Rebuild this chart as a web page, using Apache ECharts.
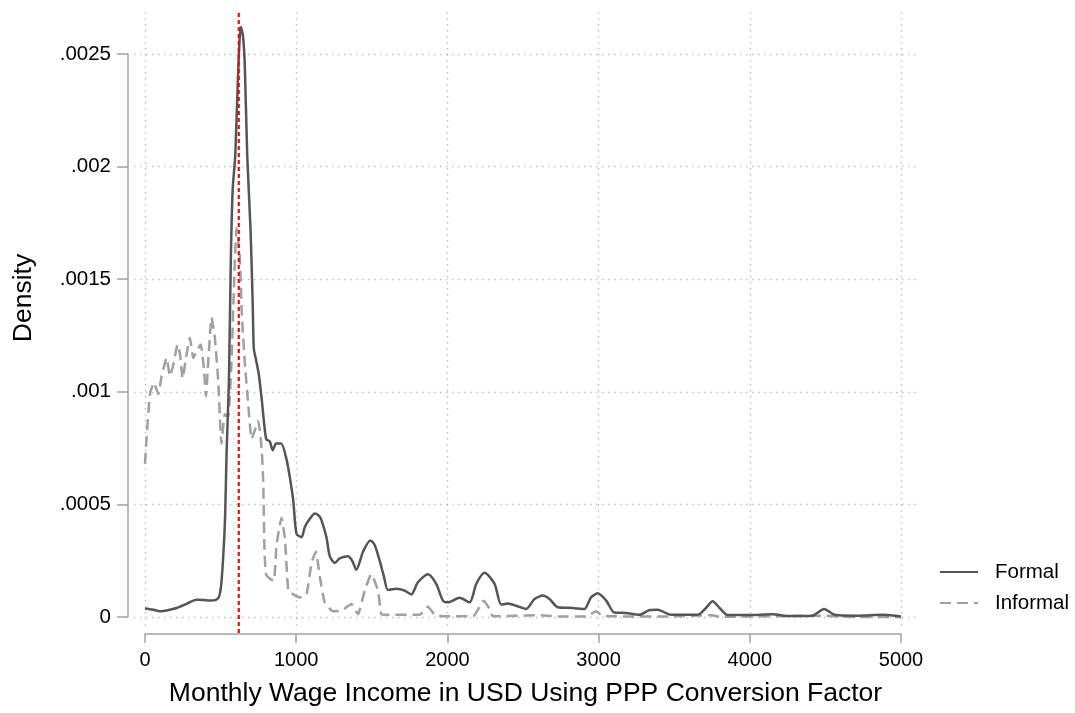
<!DOCTYPE html>
<html>
<head>
<meta charset="utf-8">
<script src="https://cdn.jsdelivr.net/npm/echarts@6/dist/echarts.min.js"></script>
<style>
html,body{margin:0;padding:0;background:#fff;}
#chart{width:1075px;height:713px;}
</style>
</head>
<body>
<div id="chart"></div>
<script>
// ---- Data ----
const wageTicks = [0, 1000, 2000, 3000, 4000, 5000];
const densityTickLabels = ['0', '.0005', '.001', '.0015', '.002', '.0025'];
const cutoffWage = 620;

const formalWage = [0,50,100,150,209,280,341,390,429,470,490,505,520,530,540,555,568,580,597,615,634,648,660,676,698,712,720,735,752,770,801,825,845,867,900,936,958,980,1002,1035,1057,1090,1123,1150,1167,1200,1222,1255,1288,1343,1370,1398,1442,1490,1519,1552,1580,1607,1662,1717,1761,1805,1871,1926,1970,2003,2081,2147,2191,2246,2312,2356,2400,2455,2521,2576,2631,2675,2730,2829,2906,2950,2994,3050,3104,3181,3269,3335,3390,3479,3655,3710,3754,3800,3853,3996,4150,4260,4414,4491,4560,4700,4888,5000];
const formalDensity = [0.000038,0.000033,0.000025,0.00003,0.00004,0.00006,0.000077,0.000075,0.000073,0.000076,0.00009,0.00015,0.0003,0.00045,0.00074,0.00105,0.0016,0.0019,0.00205,0.0024,0.00262,0.00258,0.00245,0.00205,0.00172,0.0014,0.00119,0.00114,0.00108,0.00098,0.00079,0.00078,0.00074,0.00077,0.00077,0.0007,0.00062,0.00052,0.00037,0.000354,0.0004,0.000436,0.00046,0.00045,0.00043,0.000354,0.00027,0.00024,0.00026,0.00027,0.00025,0.00021,0.00029,0.00034,0.00032,0.00025,0.00018,0.00012,0.000125,0.000117,0.0001,0.000154,0.00019,0.000147,0.000073,0.000065,0.000085,0.000065,0.000147,0.000196,0.000147,0.000055,0.00006,0.00005,0.000036,0.00008,0.000095,0.00008,0.000043,0.00004,0.000036,0.000087,0.000105,0.000073,0.00002,0.000018,0.00001,0.00003,0.000032,0.00001,0.00001,0.00004,0.00007,0.00004,0.000009,0.000009,0.000012,0.000004,0.000006,0.000036,0.00001,0.000006,0.00001,0.000002];

const informalWage = [0,11,33,59,88,110,143,165,187,216,231,249,271,297,319,341,368,390,403,418,440,462,484,506,528,550,572,590,605,615,627,640,660,682,705,727,749,771,782,790,800,826,852,870,903,925,947,969,1024,1068,1101,1130,1156,1189,1244,1299,1365,1409,1453,1497,1541,1563,1596,1816,1871,1916,1993,2169,2239,2279,2301,2609,2741,2917,2983,3027,3400,3750,3800,4500,4600,5000];
const informalDensity = [0.00068,0.0008,0.00099,0.00104,0.00099,0.00107,0.00115,0.00107,0.00112,0.00121,0.00117,0.00106,0.00115,0.00124,0.00115,0.00118,0.00121,0.0011,0.00098,0.00113,0.00133,0.00124,0.00105,0.00077,0.0009,0.00089,0.00113,0.0015,0.001726,0.00168,0.0016,0.00135,0.00113,0.00095,0.00079,0.00083,0.00087,0.00075,0.0006,0.0003,0.00019,0.00017,0.00016,0.00032,0.00044,0.00035,0.00012,0.000105,0.000087,0.0001,0.00024,0.00029,0.00018,0.000065,0.000025,0.000028,0.000058,0.000013,0.000117,0.00019,0.000117,0.000013,0.00001,0.00001,0.000046,0.00001,0.000003,0.000003,0.000072,0.000036,0.000003,0.000008,0.000002,0.000002,0.000025,0.000005,0.000002,0.000008,0.000001,0.000006,0.000001,0];

// ---- Build ----
const pairs = (xs, ys) => xs.map((x, i) => [x, ys[i]]);
const FONT = '"Liberation Sans", Helvetica, Arial, sans-serif';
const AXIS_GRAY = '#a3a3a3';
const GRID_LINE = { show: true, lineStyle: { color: '#bdbdbd', width: 1.4, type: [1.4, 4.6] } };
const hiddenParts = { axisLine: { show: false }, axisTick: { show: false }, axisLabel: { show: false }, splitLine: { show: false } };
const titleStyle = { fontSize: 26.5, color: '#000', fontFamily: FONT };

const chart = echarts.init(document.getElementById('chart'), null, { renderer: 'canvas' });
chart.setOption({
  animation: false,
  backgroundColor: '#ffffff',
  textStyle: { fontFamily: FONT },
  grid: [
    { left: 145, right: 174, top: 12, bottom: 85 },  // vertical gridlines
    { left: 134, right: 158, top: 54, bottom: 96 },  // horizontal gridlines + x title
    { left: 145, right: 174, top: 54, bottom: 96 },  // main
    { left: 145, right: 174, top: 10, bottom: 80 },  // reference line
    { left: 145, right: 174, top: 10, bottom: 127 }  // y title holder
  ],
  xAxis: [
    Object.assign({ gridIndex: 0, type: 'value', min: 0, max: 5000, interval: 1000 }, hiddenParts, { splitLine: GRID_LINE }),
    Object.assign({ gridIndex: 1, type: 'value', min: 0, max: 1, name: 'Monthly Wage Income in USD Using PPP Conversion Factor',
      nameLocation: 'middle', nameGap: 63, nameTextStyle: titleStyle }, hiddenParts),
    { gridIndex: 2, type: 'value', min: 0, max: 5000, interval: 1000, offset: 17,
      axisLine: { show: true, onZero: false, lineStyle: { color: AXIS_GRAY, width: 1.5 } },
      axisTick: { show: true, length: 9, lineStyle: { color: AXIS_GRAY, width: 1.5 } },
      axisLabel: { show: true, margin: 16, fontSize: 20, color: '#000', fontFamily: FONT,
        formatter: v => String(wageTicks[Math.round(v / 1000)]) },
      splitLine: { show: false } },
    Object.assign({ gridIndex: 3, type: 'value', min: 0, max: 5000 }, hiddenParts),
    Object.assign({ gridIndex: 4, type: 'value', min: 0, max: 5000 }, hiddenParts)
  ],
  yAxis: [
    Object.assign({ gridIndex: 0, type: 'value', min: 0, max: 1 }, hiddenParts),
    Object.assign({ gridIndex: 1, type: 'value', min: 0, max: 0.0025, interval: 0.0005 }, hiddenParts, { splitLine: GRID_LINE }),
    { gridIndex: 2, type: 'value', min: 0, max: 0.0025, interval: 0.0005, offset: 17,
      axisLine: { show: true, onZero: false, lineStyle: { color: AXIS_GRAY, width: 1.5 } },
      axisTick: { show: true, length: 11, lineStyle: { color: AXIS_GRAY, width: 1.5 } },
      axisLabel: { show: true, margin: 17, fontSize: 20.5, color: '#000', fontFamily: FONT,
        formatter: v => densityTickLabels[Math.round(v / 0.0005)] },
      splitLine: { show: false } },
    Object.assign({ gridIndex: 3, type: 'value', min: 0, max: 1 }, hiddenParts),
    Object.assign({ gridIndex: 4, type: 'value', min: 0, max: 1, name: 'Density', nameLocation: 'middle', nameGap: 108,
      nameTextStyle: titleStyle }, hiddenParts)
  ],
  legend: {
    orient: 'vertical', left: 939, top: 560, padding: 0, itemWidth: 38, itemHeight: 14, itemGap: 7,
    itemStyle: { opacity: 0 },
    textStyle: { fontSize: 20.5, lineHeight: 24, color: '#000', fontFamily: FONT, padding: [0, 0, 0, 12] },
    data: ['Formal', 'Informal']
  },
  series: [
    { name: 'Formal', type: 'line', xAxisIndex: 2, yAxisIndex: 2, data: pairs(formalWage, formalDensity),
      symbol: 'none', smooth: 0.25, clip: false, z: 3,
      lineStyle: { color: '#555555', width: 2.5 }, itemStyle: { color: '#555555' } },
    { name: 'Informal', type: 'line', xAxisIndex: 2, yAxisIndex: 2, data: pairs(informalWage, informalDensity),
      symbol: 'none', smooth: 0.15, clip: false, z: 2,
      lineStyle: { color: '#a0a0a0', width: 2.5, type: [11, 6] }, itemStyle: { color: '#a0a0a0' } },
    { name: 'cutoff', type: 'line', xAxisIndex: 3, yAxisIndex: 3, data: [[cutoffWage, 0], [cutoffWage, 1]],
      symbol: 'none', clip: false, z: 5, silent: true,
      lineStyle: { color: '#ff0000', width: 2.2, type: [4, 3] } }
  ]
});
</script>
</body>
</html>
